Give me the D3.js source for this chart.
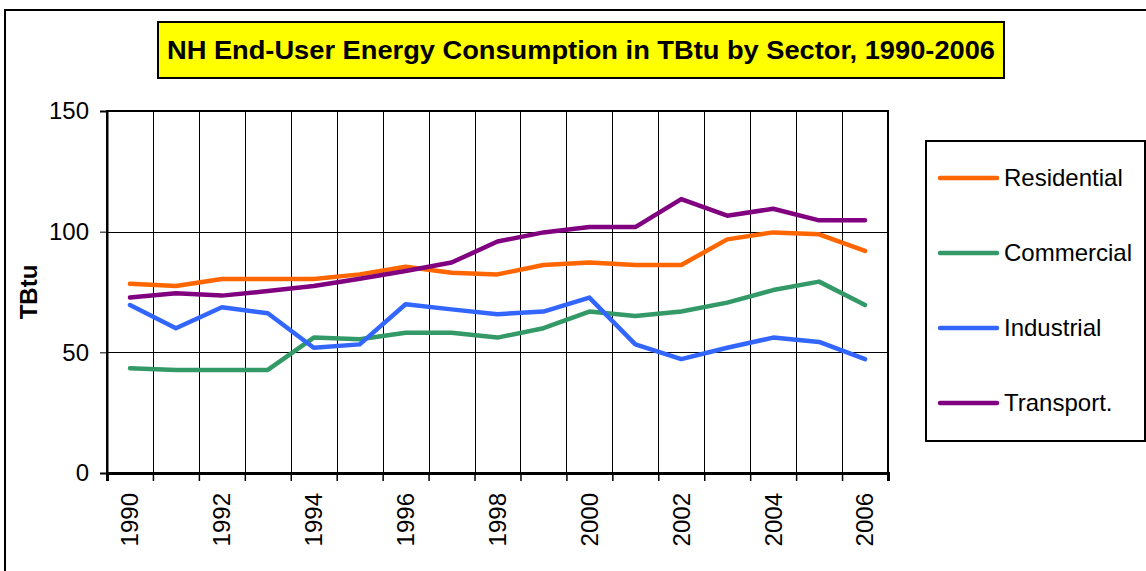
<!DOCTYPE html>
<html>
<head>
<meta charset="utf-8">
<script src="https://cdn.jsdelivr.net/npm/d3@7"></script>
<style>
  body { margin: 0; background: #fff; }
  text { font-family: "Liberation Sans", Arial, sans-serif; }
</style>
</head>
<body>
<svg></svg>
<script>
const years = ['1990','1991','1992','1993','1994','1995','1996','1997','1998','1999','2000','2001','2002','2003','2004','2005','2006']
const yearLabels = ['1990','1992','1994','1996','1998','2000','2002','2004','2006']
const yTicks = [0, 50, 100, 150]

const residential = [78.4, 77.5, 80.4, 80.4, 80.4, 82.3, 85.5, 83.0, 82.3, 86.2, 87.2, 86.2, 86.2, 96.8, 99.7, 98.9, 92.0]
const commercial  = [43.4, 42.7, 42.7, 42.7, 56.1, 55.4, 58.1, 58.1, 56.1, 60.0, 66.9, 65.1, 66.9, 70.6, 75.8, 79.3, 69.6]
const industrial  = [69.6, 60.0, 68.7, 66.2, 51.9, 53.3, 69.9, 67.8, 65.8, 66.9, 72.7, 53.3, 47.2, 51.9, 56.1, 54.3, 47.2]
const transport   = [72.7, 74.5, 73.5, 75.4, 77.5, 80.5, 83.7, 87.2, 95.9, 99.7, 101.9, 101.9, 113.5, 106.6, 109.5, 104.7, 104.7]

const seriesNames = ['Residential', 'Commercial', 'Industrial', 'Transport.']
const seriesColors = ['#ff6600', '#339966', '#3366ff', '#800080']
const seriesValues = [residential, commercial, industrial, transport]

// sizes
const svgWidth = 1146
const svgHeight = 571
const plot = {left: 107, right: 888, top: 111, bottom: 473}

const svg = d3.select('svg')
  .attr('width', svgWidth)
  .attr('height', svgHeight)

// outer frame
svg.append('rect')
  .attr('x', 5).attr('y', 10)
  .attr('width', svgWidth + 20).attr('height', svgHeight + 20)
  .attr('fill', 'none').attr('stroke', '#000').attr('stroke-width', 2)

// title box
svg.append('rect')
  .attr('x', 158).attr('y', 22)
  .attr('width', 846).attr('height', 56)
  .attr('fill', '#ffff00').attr('stroke', '#000').attr('stroke-width', 2)
svg.append('text')
  .attr('x', 167).attr('y', 59)
  .attr('font-size', 26).attr('font-weight', 'bold')
  .attr('textLength', 828)
  .attr('lengthAdjust', 'spacingAndGlyphs')
  .text('NH End-User Energy Consumption in TBtu by Sector, 1990-2006')

// scales
const xScale = d3.scaleBand()
  .domain(years)
  .range([plot.left, plot.right])
  .padding(0)

const xEdge = d3.scaleLinear()
  .domain([0, years.length])
  .range([plot.left, plot.right])

const yScale = d3.scaleLinear()
  .domain([0, 150])
  .range([plot.bottom, plot.top])

const edges = d3.range(0, years.length + 1)

// vertical gridlines at category edges
svg.append('g')
  .selectAll('line')
  .data(edges.slice(1, -1))
  .enter()
  .append('line')
  .attr('x1', d => Math.round(xEdge(d)) + 0.5)
  .attr('x2', d => Math.round(xEdge(d)) + 0.5)
  .attr('y1', plot.top)
  .attr('y2', plot.bottom)
  .attr('stroke', '#000')
  .attr('stroke-width', 1)

// horizontal gridlines
svg.append('g')
  .selectAll('line')
  .data([50, 100])
  .enter()
  .append('line')
  .attr('x1', plot.left)
  .attr('x2', plot.right)
  .attr('y1', d => Math.round(yScale(d)) + 0.5)
  .attr('y2', d => Math.round(yScale(d)) + 0.5)
  .attr('stroke', '#000')
  .attr('stroke-width', 1)

// plot border
svg.append('rect')
  .attr('x', plot.left).attr('y', plot.top)
  .attr('width', plot.right - plot.left).attr('height', plot.bottom - plot.top)
  .attr('fill', 'none').attr('stroke', '#000').attr('stroke-width', 2)

// y axis
const yAxis = d3.axisLeft(yScale).tickValues(yTicks).tickSize(7).tickPadding(11)
const gy = svg.append('g').attr('transform', 'translate(' + plot.left + ',0)').call(yAxis)
gy.select('.domain').attr('stroke-width', 2)
gy.selectAll('.tick text').attr('font-size', 24).attr('font-family', '"Liberation Sans", Arial, sans-serif').attr('fill', '#000')

// x axis tick marks at category edges
const xTickAxis = d3.axisBottom(xEdge).tickValues(edges).tickSize(8).tickFormat('')
const gx = svg.append('g').attr('transform', 'translate(0,' + plot.bottom + ')').call(xTickAxis)
gx.select('.domain').attr('stroke-width', 3)
gx.selectAll('.tick line').attr('stroke-width', 1.5)

// x labels, rotated
const xLabelAxis = d3.axisBottom(xScale).tickValues(yearLabels).tickSize(0).tickPadding(0)
const gxl = svg.append('g').attr('transform', 'translate(0,' + plot.bottom + ')').call(xLabelAxis)
gxl.select('.domain').remove()
gxl.selectAll('.tick text')
  .attr('font-size', 24)
  .attr('font-family', '"Liberation Sans", Arial, sans-serif')
  .attr('fill', '#000')
  .attr('transform', 'rotate(-90)')
  .attr('text-anchor', 'end')
  .attr('x', -20)
  .attr('y', 0)
  .attr('dy', '0.35em')

// y axis title
svg.append('text')
  .attr('transform', 'translate(37,' + ((plot.top + plot.bottom) / 2) + ') rotate(-90)')
  .attr('text-anchor', 'middle')
  .attr('font-size', 24).attr('font-weight', 'bold')
  .text('TBtu')

// lines
const line = d3.line()
  .x((d, i) => xScale(years[i]) + xScale.bandwidth() / 2)
  .y(d => yScale(d))

svg.append('g')
  .selectAll('path')
  .data(seriesValues)
  .enter()
  .append('path')
  .attr('d', d => line(d))
  .attr('fill', 'none')
  .attr('stroke', (d, i) => seriesColors[i])
  .attr('stroke-width', 4.5)
  .attr('stroke-linejoin', 'round')
  .attr('stroke-linecap', 'round')

// legend
const legend = svg.append('g')
legend.append('rect')
  .attr('x', 926).attr('y', 141)
  .attr('width', 219).attr('height', 300)
  .attr('fill', '#fff').attr('stroke', '#000').attr('stroke-width', 2)

const legendItems = legend.selectAll('g.item')
  .data(seriesNames)
  .enter()
  .append('g')
  .attr('class', 'item')
  .attr('transform', (d, i) => 'translate(0,' + (178 + i * 75) + ')')

legendItems.append('line')
  .attr('x1', 940).attr('x2', 997)
  .attr('stroke', (d, i) => seriesColors[i])
  .attr('stroke-width', 4.5)
  .attr('stroke-linecap', 'round')

legendItems.append('text')
  .attr('x', 1004)
  .attr('dy', '0.35em')
  .attr('font-size', 24)
  .text(d => d)
</script>
</body>
</html>
